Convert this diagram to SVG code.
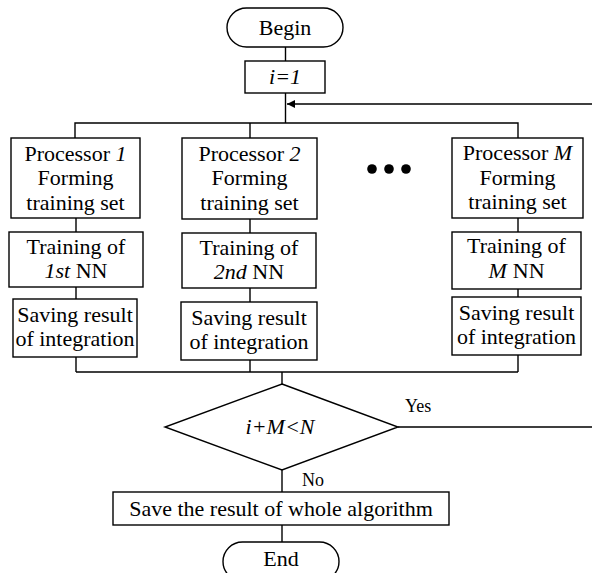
<svg xmlns="http://www.w3.org/2000/svg" width="592" height="573" viewBox="0 0 592 573">
<style>
.s{fill:#fff;stroke:#000;stroke-width:1.4}
.c{fill:none;stroke:#000;stroke-width:1.4}
text{font-family:'Liberation Serif','Times New Roman',Times,serif;font-size:22px;fill:#000;text-anchor:middle}
.i{font-style:italic}
.sm{font-size:18px;text-anchor:start}
</style>
<defs>
<marker id="ah" viewBox="0 0 10 10" refX="10" refY="5" markerWidth="9" markerHeight="8" markerUnits="userSpaceOnUse" orient="auto">
<path d="M0,0 L10,5 L0,10 z" fill="#000"/>
</marker>
</defs>
<g id="connectors">
<path class="c" d="M285.5,47 V61"/>
<path class="c" d="M285.5,93 V123"/>
<path class="c" d="M75,138 V123 H518 V138"/>
<path class="c" d="M250,123 V138"/>
<path class="c" d="M76,218 V232 M76,287 V299 M76,357 V372"/>
<path class="c" d="M250,218 V233 M250,288 V302 M250,360 V372"/>
<path class="c" d="M518,218 V232 M518,289 V297 M518,355 V372"/>
<path class="c" d="M76,372 H518"/>
<path class="c" d="M282,372 V384"/>
<path class="c" d="M282,470 V492"/>
<path class="c" d="M282,525 V542"/>
<path class="c" d="M398,427 H595 V104 H287" marker-end="url(#ah)"/>
<text class="sm" x="405" y="412">Yes</text>
<text class="sm" x="302" y="486">No</text>
</g>
<g id="begin">
<rect class="s" x="227" y="8" width="116" height="39" rx="19.5"/>
<text x="285" y="35">Begin</text>
</g>
<g id="init">
<rect class="s" x="245" y="61" width="80" height="32"/>
<text class="i" x="285" y="84">i=1</text>
</g>
<g id="proc1">
<rect class="s" x="11" y="138" width="129" height="80"/>
<text x="75.5" y="161">Processor <tspan class="i">1</tspan></text>
<text x="75.5" y="185">Forming</text>
<text x="75.5" y="210">training set</text>
</g>
<g id="train1">
<rect class="s" x="9" y="232" width="134" height="55"/>
<text x="76" y="254">Training of</text>
<text x="76" y="278"><tspan class="i">1st</tspan> NN</text>
</g>
<g id="save1">
<rect class="s" x="13" y="299" width="124" height="58"/>
<text x="75" y="322">Saving result</text>
<text x="75" y="346">of integration</text>
</g>
<g id="proc2">
<rect class="s" x="182" y="138" width="135" height="81"/>
<text x="249.5" y="161">Processor <tspan class="i">2</tspan></text>
<text x="249.5" y="185">Forming</text>
<text x="249.5" y="210">training set</text>
</g>
<g id="train2">
<rect class="s" x="182" y="233" width="134" height="55"/>
<text x="249" y="255">Training of</text>
<text x="249" y="279"><tspan class="i">2nd</tspan> NN</text>
</g>
<g id="save2">
<rect class="s" x="181" y="302" width="136" height="58"/>
<text x="249" y="325">Saving result</text>
<text x="249" y="349">of integration</text>
</g>
<g id="dots">
<circle cx="372" cy="169" r="4.8"/>
<circle cx="389" cy="169" r="4.8"/>
<circle cx="406" cy="169" r="4.8"/>
</g>
<g id="procM">
<rect class="s" x="452" y="138" width="131" height="80"/>
<text x="517.5" y="160">Processor <tspan class="i">M</tspan></text>
<text x="517.5" y="185">Forming</text>
<text x="517.5" y="209">training set</text>
</g>
<g id="trainM">
<rect class="s" x="452" y="232" width="129" height="57"/>
<text x="516.5" y="253">Training of</text>
<text x="516.5" y="278"><tspan class="i">M</tspan><tspan dx="6">NN</tspan></text>
</g>
<g id="saveM">
<rect class="s" x="452" y="297" width="129" height="58"/>
<text x="516.5" y="320">Saving result</text>
<text x="516.5" y="344">of integration</text>
</g>
<g id="decision">
<polygon class="s" points="282,384 398,427 282,470 165,427"/>
<text class="i" x="280" y="434">i+M&lt;N</text>
</g>
<g id="saveall">
<rect class="s" x="113" y="492" width="336" height="33"/>
<text x="281" y="516">Save the result of whole algorithm</text>
</g>
<g id="end">
<rect class="s" x="223" y="542" width="116" height="39" rx="19.5"/>
<text x="281" y="566">End</text>
</g>
</svg>
